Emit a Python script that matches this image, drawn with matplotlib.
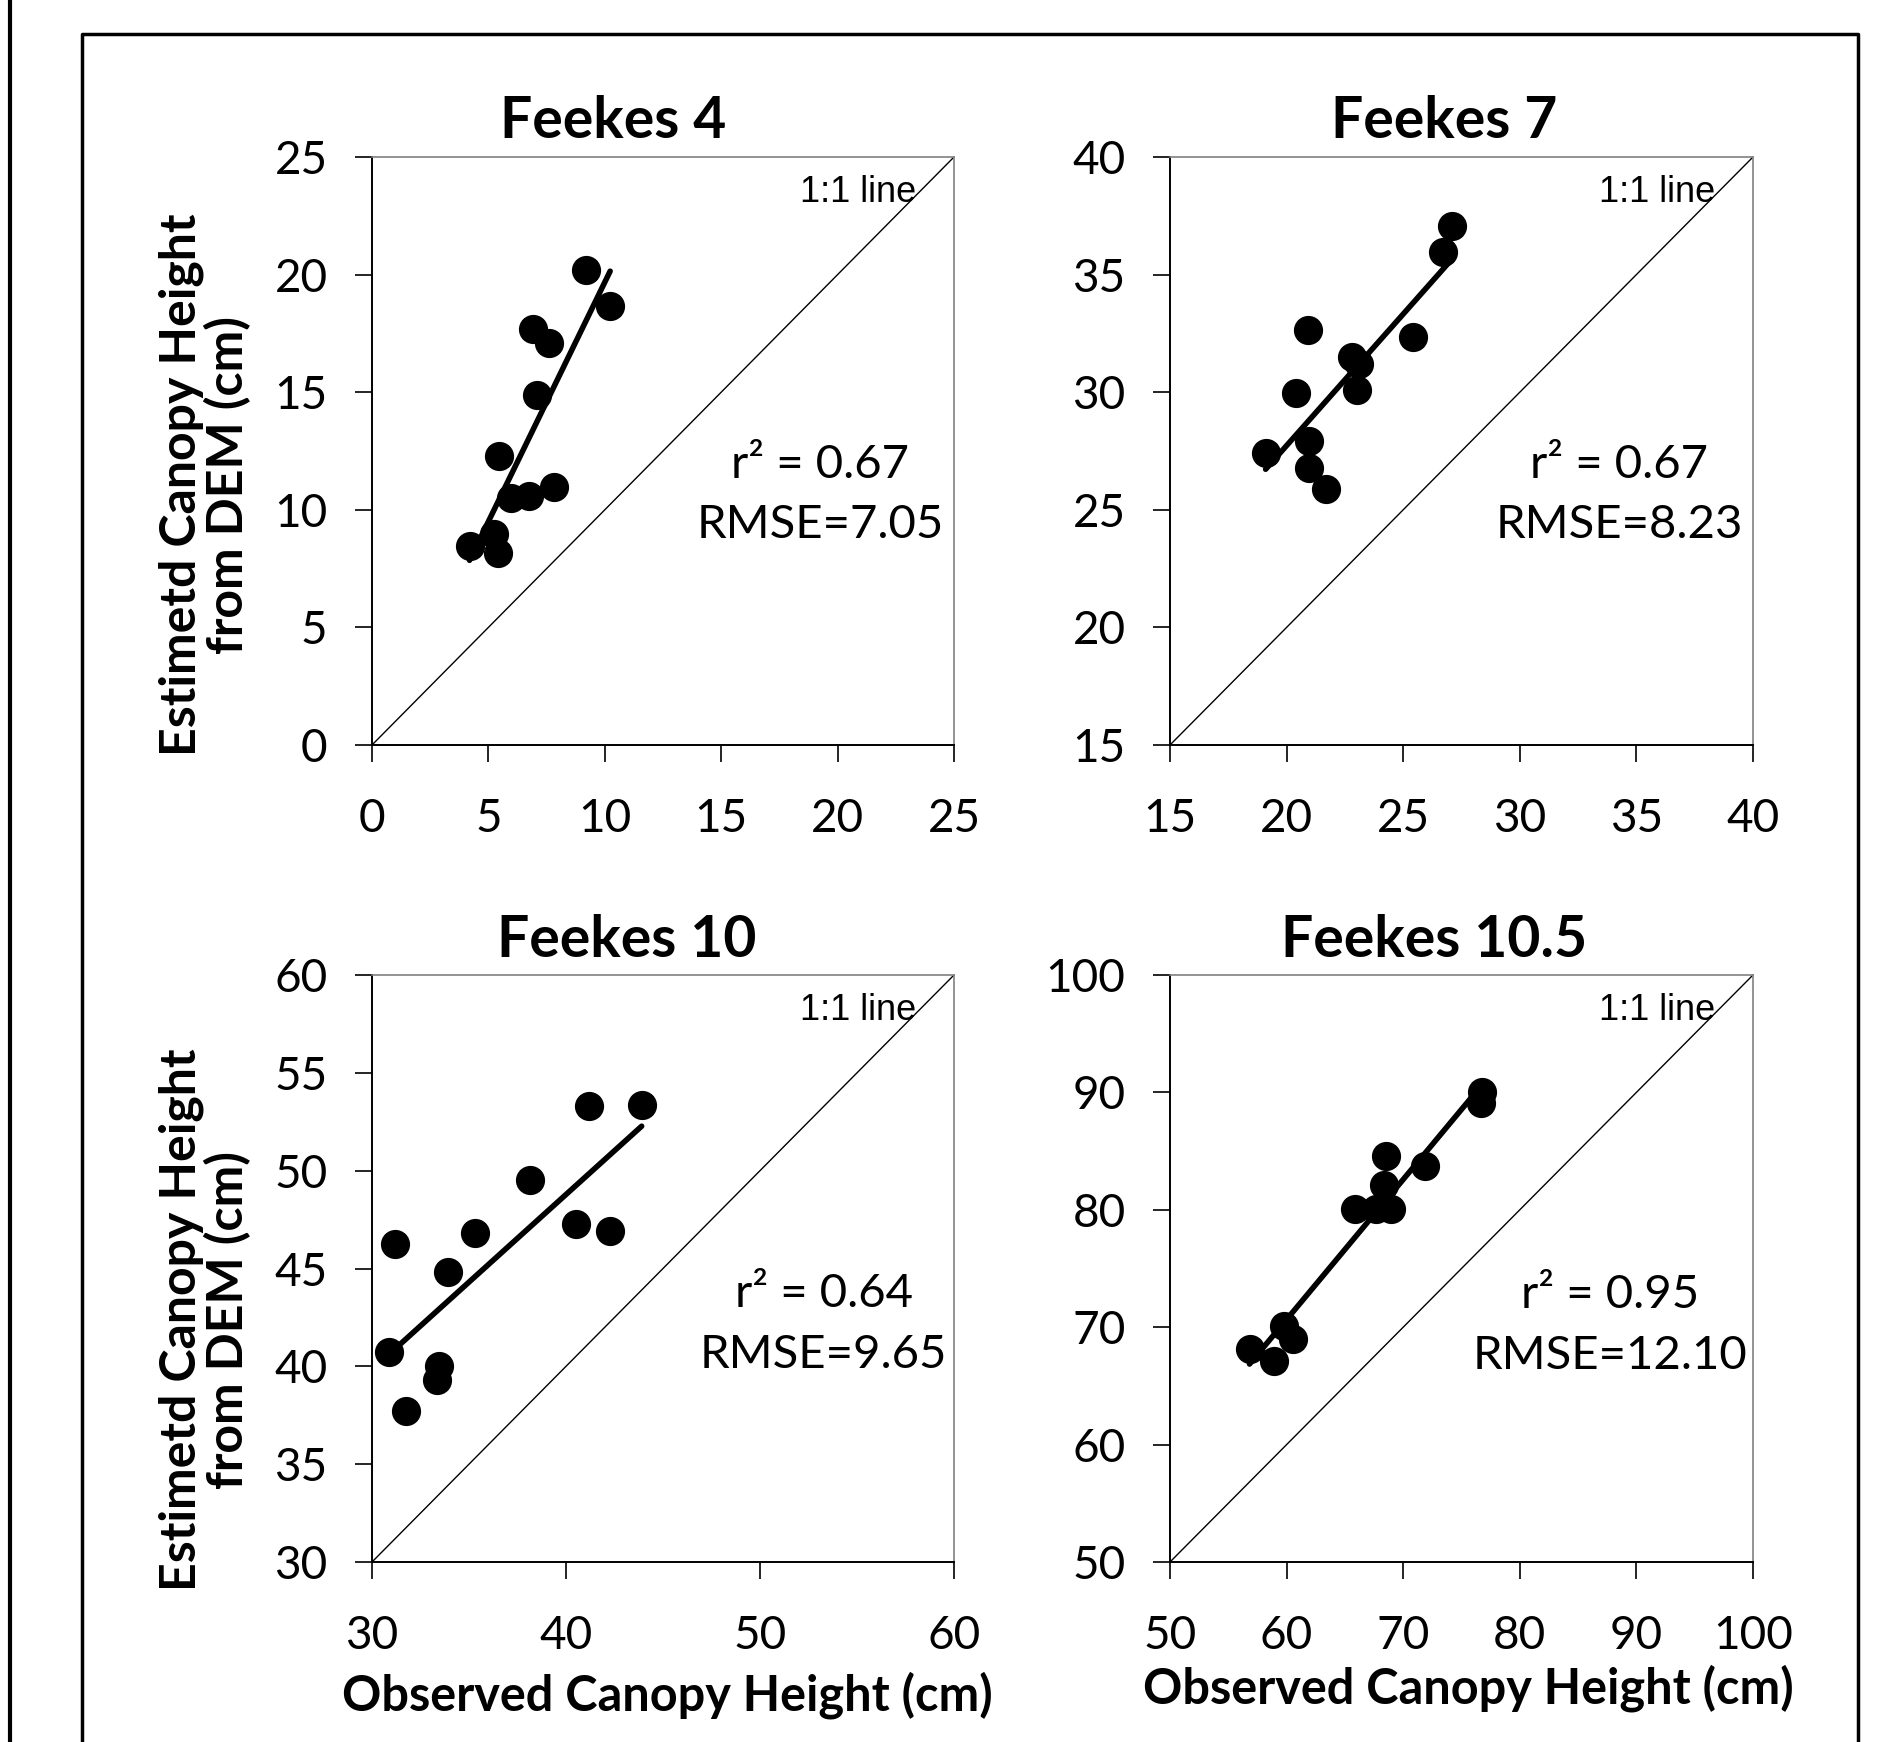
import matplotlib
matplotlib.use("Agg")
import matplotlib.pyplot as plt
from matplotlib.lines import Line2D
import numpy as np

plt.rcParams['font.family'] = ['Lato', 'DejaVu Sans']

# Feekes 4
obs_f4 = [9.18, 10.23, 6.91, 7.60, 7.10, 5.46, 5.97, 6.74, 7.81, 5.23, 4.19, 5.43]
est_f4 = [20.2, 18.68, 17.7, 17.08, 14.9, 12.3, 10.49, 10.59, 10.96, 8.97, 8.47, 8.15]
# Feekes 7
obs_f7 = [27.1, 26.72, 20.9, 25.41, 22.79, 23.11, 20.41, 23.03, 20.98, 19.10, 20.98, 21.67]
est_f7 = [37.07, 35.94, 32.64, 32.33, 31.51, 31.21, 29.98, 30.09, 27.92, 27.42, 26.79, 25.87]
# Feekes 10
obs_f10 = [41.18, 43.9, 38.15, 35.33, 31.2, 40.53, 42.26, 33.92, 30.89, 33.46, 33.37, 31.75]
est_f10 = [53.28, 53.36, 49.53, 46.82, 46.23, 47.25, 46.92, 44.80, 40.71, 40.02, 39.31, 37.71]
# Feekes 10.5
obs_f105 = [76.72, 76.66, 68.52, 71.84, 68.39, 65.84, 67.64, 68.95, 59.77, 60.59, 56.82, 58.89]
est_f105 = [90.0, 89.12, 84.61, 83.77, 82.09, 80.03, 80.03, 80.03, 70.13, 68.96, 68.18, 67.10]

titles = ["Feekes 4", "Feekes 7", "Feekes 10", "Feekes 10.5"]
limits = [(0, 25, 5), (15, 40, 5), (30, 60, 10), (50, 100, 10)]
ylimits = [(0, 25, 5), (15, 40, 5), (30, 60, 5), (50, 100, 10)]
r2_text = ["r\u00b2 = 0.67\nRMSE=7.05", "r\u00b2 = 0.67\nRMSE=8.23",
           "r\u00b2 = 0.64\nRMSE=9.65", "r\u00b2 = 0.95\nRMSE=12.10"]
obs_all = [obs_f4, obs_f7, obs_f10, obs_f105]
est_all = [est_f4, est_f7, est_f10, est_f105]

W, H = 1887, 1742
fig = plt.figure(figsize=(W / 100, H / 100), dpi=100)

# axes boxes in pixels: left, top, right, bottom
boxes = [(372, 157, 954, 745), (1170, 157, 1753, 745),
         (372, 975, 954, 1562), (1170, 975, 1753, 1562)]
title_pos = [(613, 138), (1444, 138), (627, 957), (1434, 957)]
stat_pos = [(0.77, 0.425), (0.77, 0.425), (0.776, 0.405), (0.755, 0.403)]

for i in range(4):
    l, t, r, b = boxes[i]
    ax = fig.add_axes([l / W, 1 - b / H, (r - l) / W, (b - t) / H])
    x = np.array(obs_all[i])
    y = np.array(est_all[i])
    x0, x1, xs = limits[i]
    y0, y1, ys = ylimits[i]

    ax.plot([x0, x1], [y0, y1], color='black', lw=1.0, zorder=1)
    ax.plot(x, y, 'o', color='black', markersize=20, zorder=3)
    k, c = np.polyfit(x, y, 1)
    xx = np.array([x.min(), x.max()])
    ax.plot(xx, k * xx + c, color='black', lw=4, zorder=4, solid_capstyle='round')

    ax.set_xlim(x0, x1)
    ax.set_ylim(y0, y1)
    ax.set_xticks(np.arange(x0, x1 + 0.1, xs))
    ax.set_yticks(np.arange(y0, y1 + 0.1, ys))
    ax.tick_params(direction='out', length=12, width=1.2, labelsize=33)
    ax.tick_params(axis='x', pad=26)
    ax.tick_params(axis='y', pad=20)
    for s in ['left', 'bottom']:
        ax.spines[s].set_linewidth(1.4)
        ax.spines[s].set_color('black')
    for s in ['top', 'right']:
        ax.spines[s].set_linewidth(1.2)
        ax.spines[s].set_color('#808080')

    ax.text(0.836, 0.94, "1:1 line", transform=ax.transAxes, ha='center', va='center',
            fontsize=26, family=['Liberation Sans', 'DejaVu Sans'])
    ax.text(stat_pos[i][0], stat_pos[i][1], r2_text[i], transform=ax.transAxes,
            ha='center', va='center', fontsize=34, linespacing=1.55)

    fig.text(title_pos[i][0] / W, 1 - title_pos[i][1] / H, titles[i], ha='center',
             va='baseline', fontsize=41, fontweight='bold')

# y labels
for yc in [485, 1320]:
    fig.text(205 / W, 1 - yc / H, "Estimetd Canopy Height\nfrom DEM (cm)", rotation=90,
             ha='center', va='center', multialignment='center', fontsize=36,
             fontweight='bold', linespacing=1.0)

# x labels
fig.text(667 / W, 1 - 1710 / H, "Observed Canopy Height (cm)", ha='center', va='baseline',
         fontsize=35, fontweight='bold')
fig.text(1468 / W, 1 - 1703 / H, "Observed Canopy Height (cm)", ha='center', va='baseline',
         fontsize=35, fontweight='bold')

# frame lines
fig.add_artist(Line2D([9.5 / W, 9.5 / W], [0, 1], color='black', lw=3))
fig.add_artist(Line2D([82 / W, 82 / W, 1858 / W, 1858 / W], [0, 1 - 34 / H, 1 - 34 / H, 0],
                      color='black', lw=2.5))

fig.savefig("out.png", dpi=100)
